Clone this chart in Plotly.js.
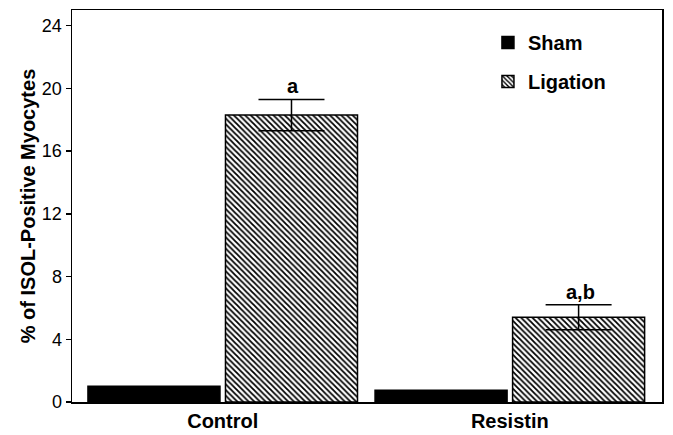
<!DOCTYPE html>
<html>
<head>
<meta charset="utf-8">
<script src="https://cdn.plot.ly/plotly-3.0.1.min.js"></script>
<style>html,body{margin:0;padding:0;background:#fff;}#chart{width:673px;height:435px;}</style>
</head>
<body>
<div id="chart"></div>
<script>
const categories = ['Control', 'Resistin'];
const shamValues = [1.0, 0.75];
const ligationValues = [18.3, 5.4];
const ligationErrors = [1.0, 0.8];
const ligationLabels = ['a', 'a,b'];
const yTickVals = [0, 4, 8, 12, 16, 20, 24];

const FONT = 'Liberation Sans, Arial, sans-serif';

const sham = {
  type: 'bar', name: 'Sham', x: categories, y: shamValues, legendgroup: 'g1',
  marker: {color: '#000000', line: {color: '#000000', width: 1.5}}
};
const ligation = {
  type: 'bar', name: 'Ligation', x: categories, y: ligationValues, legendgroup: 'g2',
  marker: {color: '#ffffff', line: {color: '#000000', width: 1.5},
           pattern: {shape: '\\', fgcolor: '#000000', bgcolor: '#ffffff', size: 4, solidity: 0.45}},
  error_y: {type: 'data', array: ligationErrors, visible: true, color: '#000000', thickness: 1.5, width: 33}
};

const ligOffset = 0.245;
const annotations = categories.map((c, i) => ({
  x: i + ligOffset, y: ligationValues[i] + ligationErrors[i], xref: 'x', yref: 'y',
  text: ligationLabels[i], showarrow: false, yanchor: 'bottom', yshift: 0,
  font: {family: FONT, size: 20, color: '#000', weight: 'bold'}
}));

const layout = {
  width: 673, height: 435,
  margin: {l: 72, r: 11, t: 10, b: 33},
  paper_bgcolor: '#ffffff', plot_bgcolor: '#ffffff',
  barmode: 'group', bargap: 0.042, bargroupgap: 0.04,
  showlegend: true,
  legend: {x: 0.705, y: 0.967, xanchor: 'left', yanchor: 'top', bgcolor: 'rgba(0,0,0,0)',
           traceorder: 'grouped', tracegroupgap: 10,
           font: {family: FONT, size: 20, color: '#000', weight: 'bold'}, itemwidth: 30},
  xaxis: {
    type: 'category', range: [-0.525, 1.53], showline: true, linecolor: '#000', linewidth: 1.5,
    mirror: true, ticks: '', showgrid: false, zeroline: false,
    tickfont: {family: FONT, size: 20, color: '#000', weight: 'bold'}
  },
  yaxis: {
    range: [0, 25], tickvals: yTickVals, ticktext: yTickVals.map(String),
    showline: true, linecolor: '#000', linewidth: 1.5, mirror: true,
    ticks: 'outside', ticklen: 5, tickwidth: 1.5, tickcolor: '#000',
    showgrid: false, zeroline: false,
    tickfont: {family: FONT, size: 18, color: '#000'},
    title: {text: '% of ISOL-Positive Myocytes', standoff: 1,
            font: {family: FONT, size: 20, color: '#000', weight: 'bold'}}
  },
  annotations: annotations
};

Plotly.newPlot('chart', [sham, ligation], layout, {displayModeBar: false, staticPlot: true});
</script>
</body>
</html>
